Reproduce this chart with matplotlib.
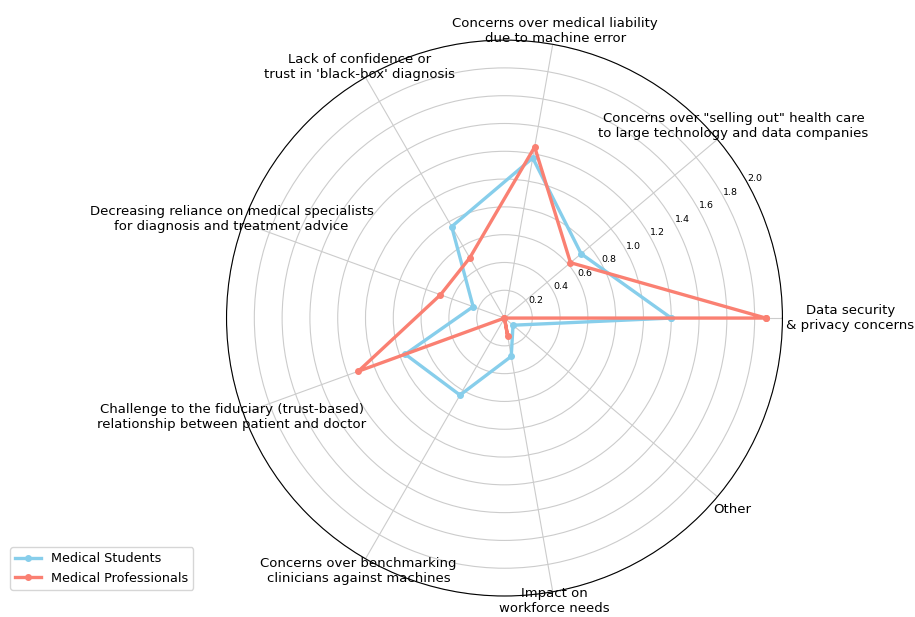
import numpy as np
import matplotlib
matplotlib.use("Agg")
import matplotlib.pyplot as plt

categories = [
    "Data security\n& privacy concerns",
    "Concerns over \"selling out\" health care\nto large technology and data companies",
    "Concerns over medical liability\ndue to machine error",
    "Lack of confidence or\ntrust in 'black-box' diagnosis",
    "Decreasing reliance on medical specialists\nfor diagnosis and treatment advice",
    "Challenge to the fiduciary (trust-based)\nrelationship between patient and doctor",
    "Concerns over benchmarking\nclinicians against machines",
    "Impact on\nworkforce needs",
    "Other",
]
students = [1.20, 0.72, 1.17, 0.76, 0.24, 0.76, 0.64, 0.28, 0.08]
professionals = [1.88, 0.62, 1.25, 0.50, 0.49, 1.12, 0.00, 0.13, 0.00]
r_ticks = [0.2, 0.4, 0.6, 0.8, 1.0, 1.2, 1.4, 1.6, 1.8, 2.0]

# radial distance (data units) at which each category label is centred
label_radius = [2.49, 2.15, 2.10, 2.09, 2.09, 2.09, 2.10, 2.07, 2.14]

n = len(categories)
angles = np.linspace(0, 2 * np.pi, n, endpoint=False).tolist()
angles_closed = angles + angles[:1]

fig = plt.figure(figsize=(9.15, 6.17), dpi=100)
ax = fig.add_axes([0.2475, 0.034, 0.6077, 0.901], polar=True)

ax.plot(angles_closed, students + students[:1], color="skyblue",
        linewidth=2.4, marker="o", markersize=4, label="Medical Students")
ax.plot(angles_closed, professionals + professionals[:1], color="salmon",
        linewidth=2.4, marker="o", markersize=4, label="Medical Professionals")

ax.set_ylim(0, 2.0)
ax.set_yticks(r_ticks)
ax.set_yticklabels([f"{t:.1f}" for t in r_ticks], fontsize=6.8)
ax.set_rlabel_position(29)
ax.set_xticks(angles)
ax.set_xticklabels([])
for ang, lab, rr in zip(angles, categories, label_radius):
    ax.text(ang, rr, lab, ha="center", va="center", fontsize=9.5,
            clip_on=False)
ax.grid(color="#cccccc", linewidth=0.8)
ax.spines["polar"].set_linewidth(0.8)

ax.legend(loc="lower left", bbox_to_anchor=(0.011, 0.044),
          bbox_transform=fig.transFigure, borderaxespad=0, fontsize=9.2)

fig.savefig("out.png", dpi=100)
